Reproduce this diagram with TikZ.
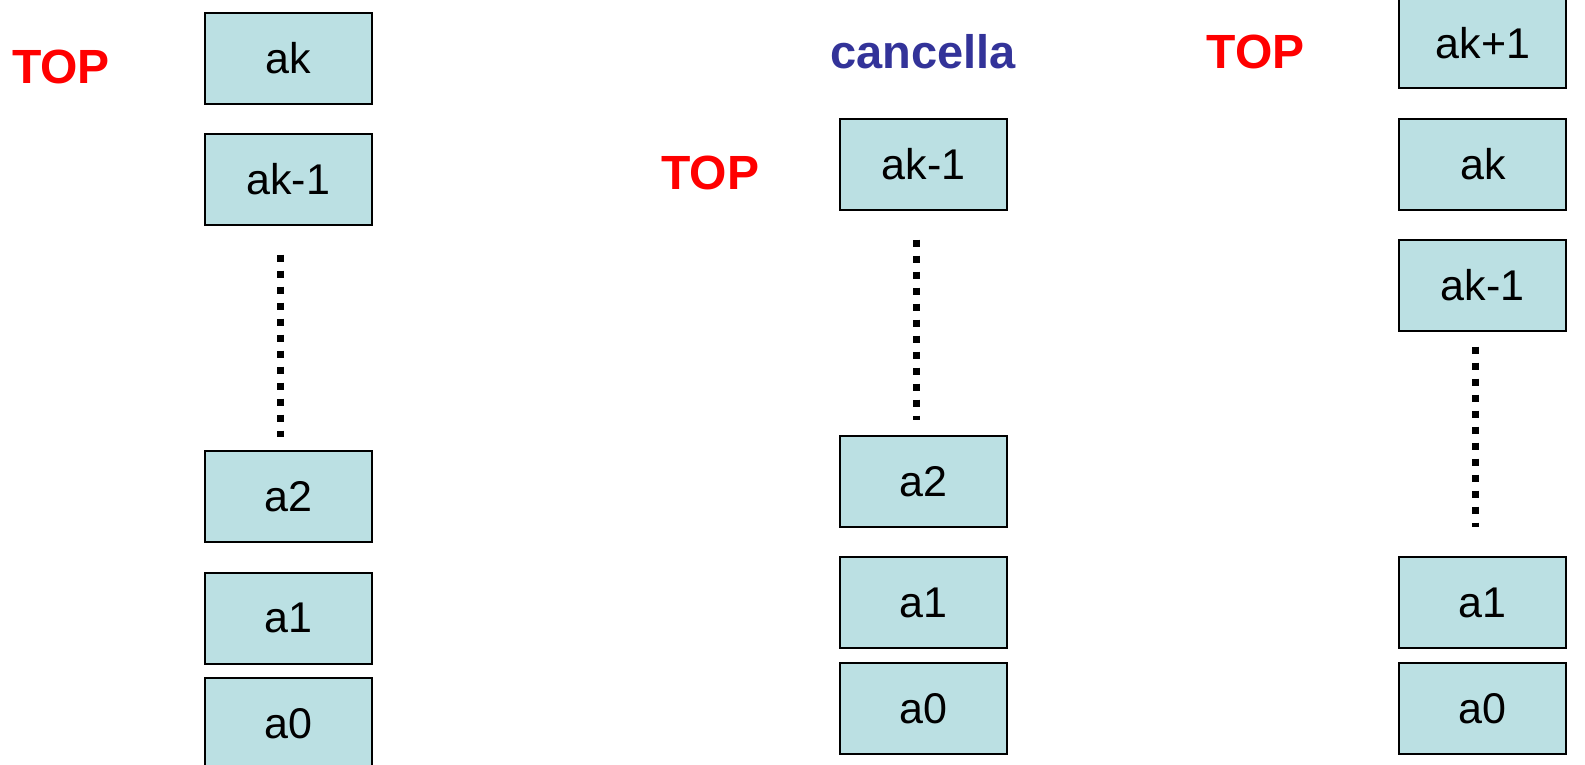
\documentclass[tikz,border=0pt]{standalone}
\usepackage{fontspec}
\setmainfont{Liberation Sans}
\definecolor{boxfill}{RGB}{187,224,227}
\definecolor{topred}{RGB}{255,0,0}
\definecolor{canblue}{RGB}{51,51,153}
\begin{document}
\begin{tikzpicture}[x=1pt,y=-1pt,
  cell/.style={draw=black,line width=2pt,fill=boxfill,minimum width=167pt,minimum height=91pt,inner sep=0pt,font=\fontsize{43}{43}\selectfont},
  toplabel/.style={anchor=base,inner sep=0pt,text=topred,font=\fontsize{48}{48}\selectfont\bfseries},
  dots/.style={line width=7pt,dash pattern=on 7pt off 9pt}]
\useasboundingbox (0,0) rectangle (1585,765);
\clip (0,0) rectangle (1585,765);
% column 1
\node[toplabel] (top1) at (61,84) {TOP};
\node[cell] (c1k) at (288.3,58.3) {ak};
\node[cell] (c1km) at (288.3,179.5) {ak-1};
\node[cell] (c1a2) at (288.3,496.8) {a2};
\node[cell] (c1a1) at (288.3,618) {a1};
\node[cell] (c1a0) at (288.3,723.3) {a0};
\coordinate (d1s) at (280,254.7);
\coordinate (d1e) at (280,437);
\draw[dots] (d1s) -- (d1e);
% column 2
\node[anchor=base,inner sep=0pt,text=canblue,font=\fontsize{47}{47}\selectfont\bfseries] (canc) at (922.8,68.3) {cancella};
\node[toplabel] (top2) at (710.3,189.3) {TOP};
\node[cell] (c2km) at (923.7,164.2) {ak-1};
\node[cell] (c2a2) at (923.7,481.5) {a2};
\node[cell] (c2a1) at (923.7,602.5) {a1};
\node[cell] (c2a0) at (923.7,708.3) {a0};
\coordinate (d2s) at (916,239.6);
\coordinate (d2e) at (916,420);
\draw[dots] (d2s) -- (d2e);
% column 3
\node[toplabel] (top3) at (1255.5,68.3) {TOP};
\node[cell] (c3kp) at (1482.8,43) {ak+1};
\node[cell] (c3k) at (1482.8,164.2) {ak};
\node[cell] (c3km) at (1482.8,285.2) {ak-1};
\node[cell] (c3a1) at (1482.8,602.8) {a1};
\node[cell] (c3a0) at (1482.8,708.3) {a0};
\coordinate (d3s) at (1475.7,346.7);
\coordinate (d3e) at (1475.7,527);
\draw[dots] (d3s) -- (d3e);
\end{tikzpicture}
\end{document}
